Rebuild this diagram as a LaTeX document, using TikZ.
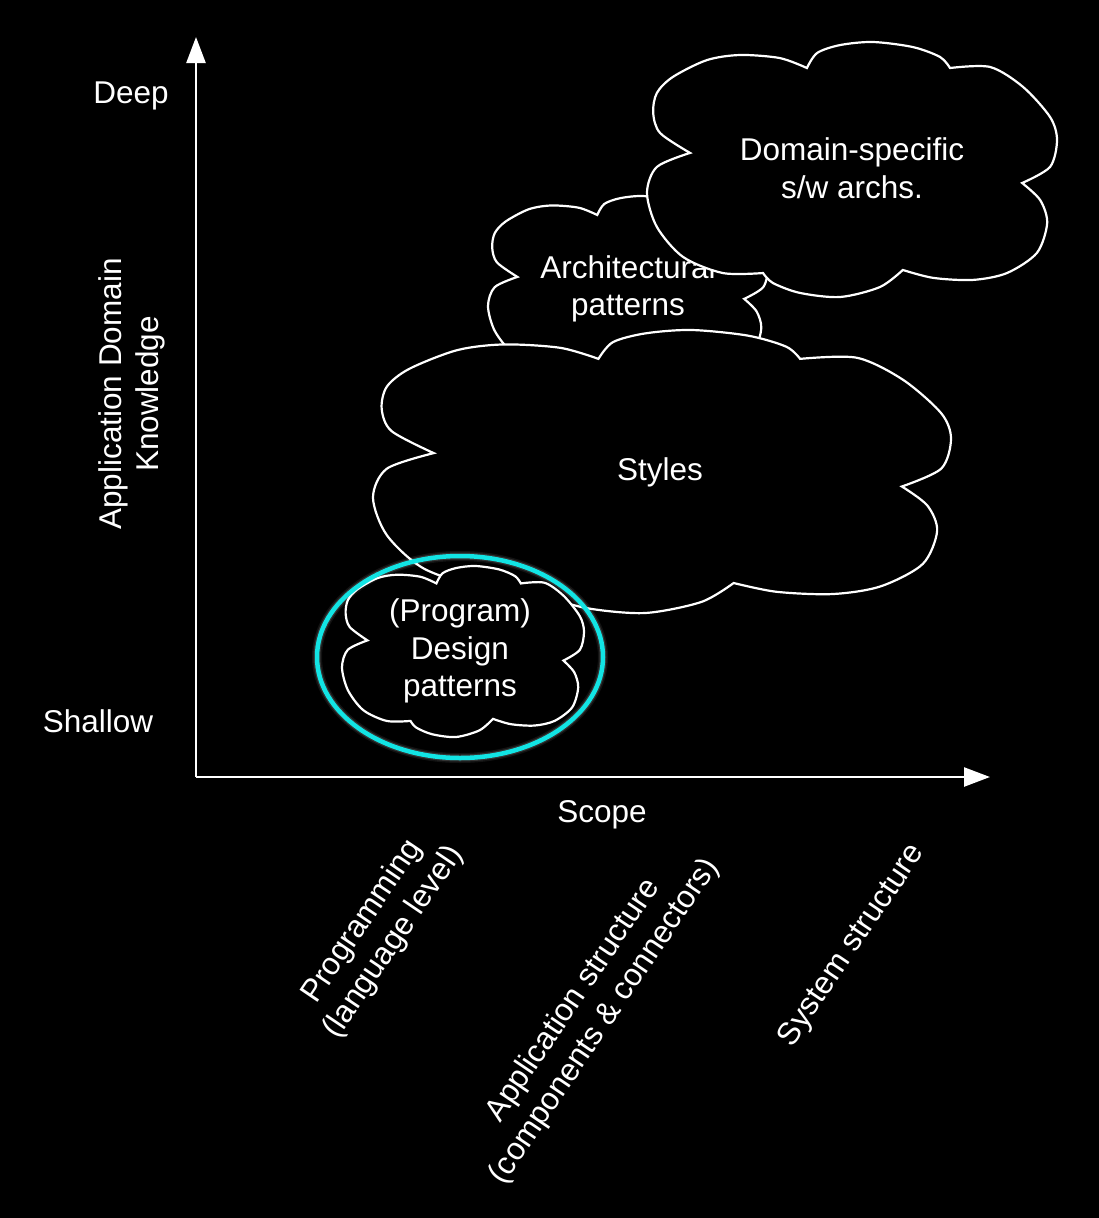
\documentclass[tikz,border=0pt]{standalone}
\usepackage{fontspec}
\setmainfont{Liberation Sans}
\usetikzlibrary{arrows.meta}

\definecolor{ringcyan}{RGB}{18,228,228}

% one Keynote-like cloud, fitted into the box x0 y0 width height
\newcommand{\keycloud}[4]{%
  \begin{scope}[shift={(#1,#2)}, xscale=#3, yscale=#4]
    \filldraw[cloudline]
      plot[smooth] coordinates {(0.105,0.435) (0.032,0.357) (0.015,0.278) (0.024,0.2) (0.063,0.137) (0.146,0.071) (0.227,0.051) (0.324,0.063) (0.39,0.102)}
      -- plot[smooth] coordinates {(0.39,0.102) (0.415,0.043) (0.471,0.012) (0.551,0) (0.649,0.02) (0.715,0.059) (0.739,0.102)}
      -- plot[smooth] coordinates {(0.739,0.102) (0.837,0.098) (0.917,0.176) (0.983,0.294) (1,0.384) (0.983,0.49) (0.915,0.553)}
      -- plot[smooth] coordinates {(0.915,0.553) (0.959,0.62) (0.976,0.71) (0.951,0.827) (0.878,0.906) (0.795,0.933) (0.698,0.925) (0.624,0.894)}
      -- plot[smooth] coordinates {(0.624,0.894) (0.568,0.961) (0.471,1) (0.373,0.984) (0.307,0.945) (0.283,0.906)}
      -- plot[smooth] coordinates {(0.283,0.906) (0.185,0.906) (0.088,0.843) (0.024,0.725) (0,0.592) (0.024,0.49) (0.105,0.435)}
      -- cycle;
  \end{scope}}

\begin{document}
\begin{tikzpicture}[
    x=1pt, y=-1pt,
    lbl/.style = {text=white, align=center, inner sep=0pt, font=\fontsize{31.5}{37.5}\selectfont},
    cloudline/.style = {draw=white, fill=black, line width=2.2pt},
    axis/.style = {draw=white, line width=2.4pt, -{Triangle[length=26pt, width=19pt]}},
    > = {Triangle[length=26pt, width=19pt]}
]
\fill[black] (0,0) rectangle (1099,1218);
\useasboundingbox (0,0) rectangle (1099,1218);

% axes
\coordinate (origin) at (196,777);
\coordinate (ytip) at (196,37);
\coordinate (xtip) at (990,777);
\draw[axis] (origin) -- (ytip);
\draw[axis] (origin) -- (xtip);

\node (deep) [lbl] at (131,96) {Deep};
\node (shallow) [lbl] at (98,721) {Shallow};
\node (knowledge) [lbl, rotate=90] at (132,394) {Application Domain\\Knowledge};
\node (scope) [lbl] at (602,815) {Scope};

\node (prog) [lbl, rotate=56] at (378,932) {Programming\\(language level)};
\node (appstruct) [lbl, rotate=56] at (589,1011) {Application structure\\(components \& connectors)};
\node (sysstruct) [lbl, rotate=56] at (852,946) {System structure};

% clouds, back to front
\keycloud{488}{196}{280}{186}
\node (arch) [lbl] at (628,289) {Architectural\\patterns};
\keycloud{647}{42}{410}{255}
\node (domain) [lbl] at (852,168) {Domain-specific\\s/w archs.};
\keycloud{373}{330}{578}{283}
\node (styles) [lbl] at (660,472) {Styles};
\keycloud{342}{566}{242}{171}
\node (design) [lbl] at (460,651) {(Program)\\Design\\patterns};

% highlight ring
\draw[white, opacity=0.07, line width=10pt] (460,657) ellipse [x radius=143, y radius=101];
\draw[white, opacity=0.14, line width=7pt] (460,657) ellipse [x radius=143, y radius=101];
\draw[ringcyan, line width=4.5pt] (460,657) ellipse [x radius=143, y radius=101];
\end{tikzpicture}
\end{document}
